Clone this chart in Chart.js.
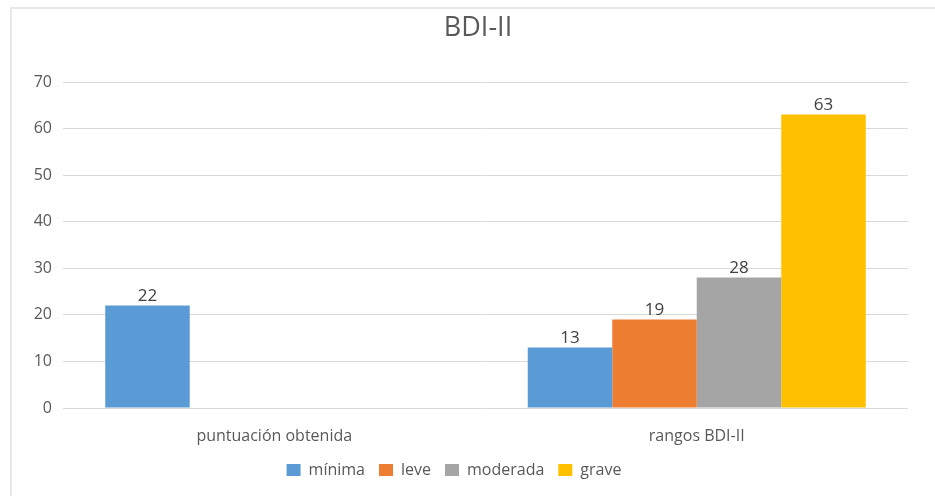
<!DOCTYPE html>
<html>
<head>
<meta charset="utf-8">
<script src="https://cdn.jsdelivr.net/npm/chart.js@4/dist/chart.umd.min.js"></script>
<style>
  html, body { margin: 0; padding: 0; background: #ffffff; }
  #wrap { position: relative; width: 935px; height: 496px; }
  #frame { position: absolute; left: 10px; top: 7px; right: 0; bottom: 0; border-top: 2px solid #e8e8e8; border-left: 2px solid #e8e8e8; pointer-events: none; }
  canvas { position: absolute; left: 0; top: 0; }
</style>
</head>
<body>
<div id="wrap">
  <canvas id="c" width="935" height="496"></canvas>
  <div id="frame"></div>
</div>
<script>
const titleText = "BDI-II";
const categories = ["puntuación obtenida", "rangos BDI-II"];
const seriesNames = ["mínima", "leve", "moderada", "grave"];
const minima = [22, 13];
const leve = [null, 19];
const moderada = [null, 28];
const grave = [null, 63];
const yTicks = [0, 10, 20, 30, 40, 50, 60, 70];
const seriesColors = ["#5B9BD5", "#ED7D31", "#A5A5A5", "#FFC000"];

const FONT = "'Open Sans', 'DejaVu Sans', sans-serif";

const valueLabels = {
  id: "valueLabels",
  afterDatasetsDraw(chart) {
    const ctx = chart.ctx;
    ctx.save();
    ctx.font = "17px " + FONT;
    ctx.fillStyle = "#404040";
    ctx.textAlign = "center";
    ctx.textBaseline = "bottom";
    chart.data.datasets.forEach((ds, i) => {
      const meta = chart.getDatasetMeta(i);
      meta.data.forEach((bar, j) => {
        const v = ds.data[j];
        if (v === null || v === undefined) return;
        ctx.fillText(String(v), bar.x, bar.y - 1);
      });
    });
    ctx.restore();
  }
};

const chartTitle = {
  id: "chartTitle",
  afterDraw(chart) {
    const ctx = chart.ctx;
    ctx.save();
    ctx.font = "27px " + FONT;
    ctx.fillStyle = "#595959";
    ctx.textAlign = "center";
    ctx.textBaseline = "middle";
    ctx.fillText(titleText, 478, 28);
    ctx.restore();
  }
};

const allSeries = [minima, leve, moderada, grave];

new Chart(document.getElementById("c"), {
  type: "bar",
  data: {
    labels: categories,
    datasets: seriesNames.map((n, i) => ({
      label: n,
      data: allSeries[i],
      backgroundColor: seriesColors[i],
      borderWidth: 0,
      categoryPercentage: 0.8,
      barPercentage: 1.0
    }))
  },
  options: {
    responsive: false,
    animation: false,
    devicePixelRatio: 1,
    layout: { padding: { left: 0, right: 27, top: 82, bottom: 8 } },
    plugins: {
      title: { display: false },
      legend: {
        position: "bottom",
        labels: {
          boxWidth: 14,
          boxHeight: 12,
          padding: 14,
          color: "#595959",
          font: { family: FONT, size: 16 }
        }
      },
      tooltip: { enabled: false }
    },
    scales: {
      x: {
        grid: { display: false, drawTicks: false },
        border: { display: false },
        ticks: { color: "#595959", font: { family: FONT, size: 16 }, padding: 19 },
        afterFit(scale) { scale.height = 40; }
      },
      y: {
        min: 0,
        max: 70,
        afterBuildTicks(scale) { scale.ticks = yTicks.map(v => ({ value: v })); },
        grid: { color: "#d9d9d9", lineWidth: 1, drawTicks: false },
        border: { display: false },
        ticks: { color: "#595959", font: { family: FONT, size: 16 }, padding: 11 },
        afterFit(scale) { scale.width = 63; }
      }
    }
  },
  plugins: [valueLabels, chartTitle]
});
</script>
</body>
</html>
